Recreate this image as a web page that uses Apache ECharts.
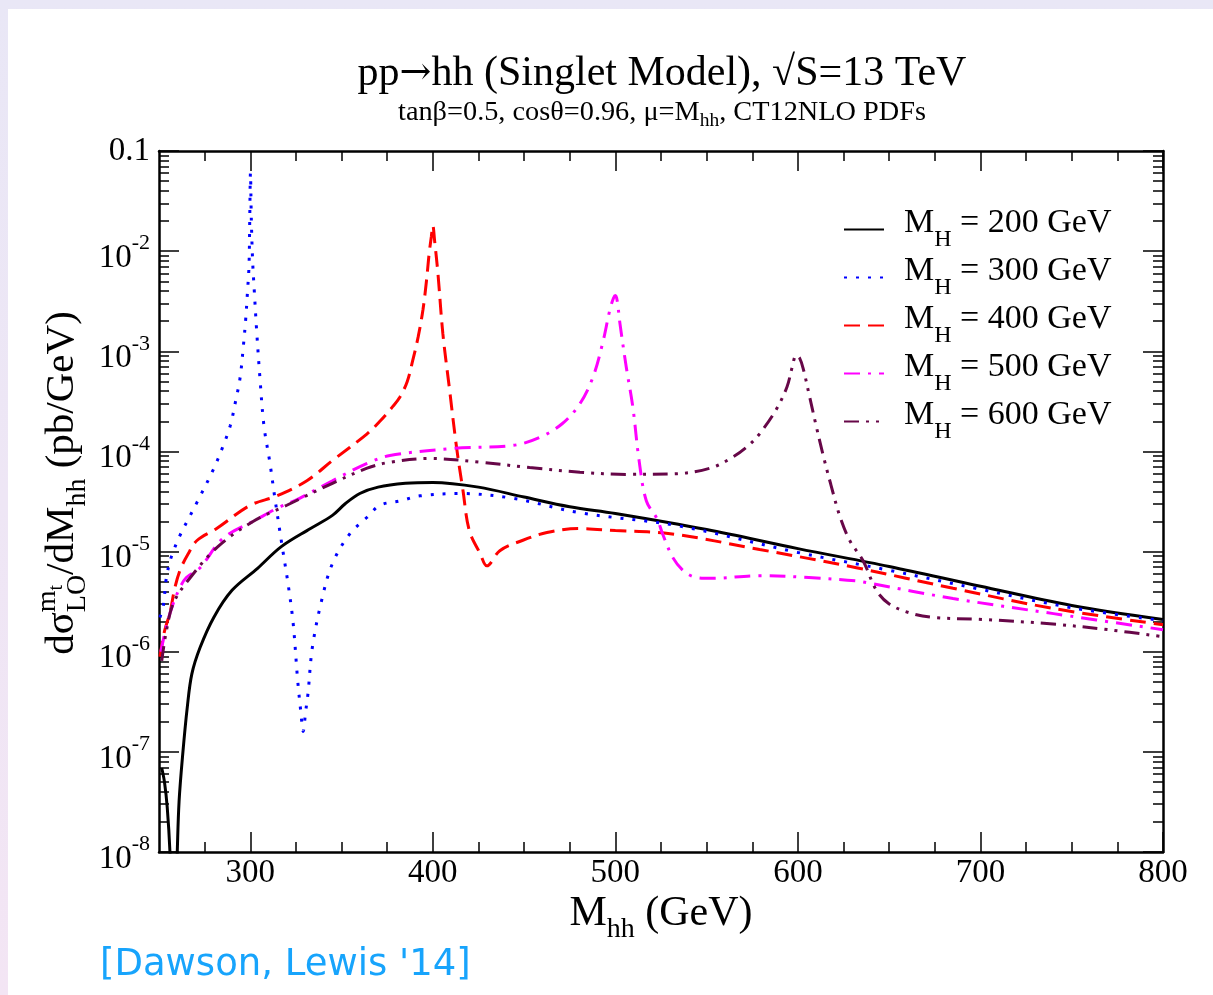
<!DOCTYPE html>
<html>
<head>
<meta charset="utf-8">
<script src="https://cdn.jsdelivr.net/npm/echarts@6/dist/echarts.min.js"></script>
<style>
  html, body { margin: 0; padding: 0; background: #fff; }
  #chart { width: 1213px; height: 995px; }
</style>
</head>
<body>
<div id="chart"></div>
<script>
// LO differential cross section dσ/dM_hh (pb/GeV) versus M_hh (GeV), one list per heavy Higgs mass
const mh200 = [[251.5,6.9e-8],[253,5.0e-8],[254.5,2.8e-8],[256,1.0e-8],[257,2.5e-9],[258,3e-10],[259,2.5e-9],[260,1.0e-8],[261,3.2e-8],[263,9.5e-8],[265.5,2.8e-7],[268,6.0e-7],[272.5,1.1e-6],[280,2.2e-6],[290,4.1e-6],[304,6.8e-6],[317,1.12e-5],[333,1.7e-5],[345,2.3e-5],[352,3.0e-5],[360,3.8e-5],[370,4.4e-5],[385,4.8e-5],[400,4.9e-5],[425,4.4e-5],[450,3.5e-5],[475,2.8e-5],[500,2.4e-5],[550,1.66e-5],[600,1.07e-5],[650,7.1e-6],[700,4.5e-6],[750,2.9e-6],[800,2.1e-6]];
const mh300 = [[250.5,2.2e-6],[252.4,2.9e-6],[254,5.4e-6],[256.6,8.7e-6],[261.5,1.45e-5],[266,2.1e-5],[270.8,3.1e-5],[279.6,6.5e-5],[285,1.12e-4],[289,1.8e-4],[292,3.2e-4],[294.4,5.4e-4],[296.2,1.12e-3],[297.5,2.1e-3],[298.5,4.0e-3],[299.3,7.1e-3],[299.7,2.0e-2],[300.1,6.0e-2],[300.6,2.0e-2],[301.3,7.9e-3],[302.2,4.0e-3],[303.5,1.6e-3],[305.3,5.4e-4],[307.5,1.8e-4],[310.8,7.6e-5],[313.5,3.4e-5],[317.4,1.15e-5],[320.6,4.9e-6],[323.4,2.0e-6],[326,5.1e-7],[327.7,2.5e-7],[329,1.6e-7],[330.3,2.5e-7],[331.6,3.8e-7],[334,1.1e-6],[339,3.2e-6],[345,7.6e-6],[354.6,1.51e-5],[364,2.2e-5],[371,2.9e-5],[382,3.2e-5],[393,3.6e-5],[415,3.8e-5],[444,3.4e-5],[480,2.45e-5],[535,1.8e-5],[600,9.8e-6],[650,6.5e-6],[700,4.2e-6],[750,2.75e-6],[800,2.04e-6]];
const mh400 = [[250.5,8.9e-7],[253,1.6e-6],[256,2.45e-6],[258.5,4.2e-6],[261.5,6.5e-6],[266,9.5e-6],[270.8,1.29e-5],[281.6,1.7e-5],[300,2.9e-5],[314.6,3.6e-5],[331,5.1e-5],[345,8.1e-5],[364,1.5e-4],[371,2.0e-4],[378,2.8e-4],[382,3.5e-4],[386,5.0e-4],[389,8.1e-4],[392,1.4e-3],[394.6,2.6e-3],[396.5,5.0e-3],[398,9.5e-3],[399.2,1.4e-2],[400,1.8e-2],[401,1.26e-2],[402.8,6.0e-3],[405.5,1.5e-3],[409,4.4e-4],[413,1.1e-4],[416.5,4.1e-5],[420,1.62e-5],[426,9.5e-6],[429.6,7.2e-6],[436.7,1.02e-5],[449,1.29e-5],[462.5,1.55e-5],[480,1.7e-5],[500,1.62e-5],[530,1.51e-5],[579,1.05e-5],[632,6.9e-6],[685,4.3e-6],[740,2.7e-6],[800,1.86e-6]];
const mh500 = [[251,1.0e-6],[254,1.78e-6],[257,2.75e-6],[261,4.2e-6],[265,5.5e-6],[272.5,6.9e-6],[285,1.35e-5],[303.7,2.1e-5],[314.6,2.7e-5],[327,3.4e-5],[345,5.1e-5],[364,7.6e-5],[376.5,9.1e-5],[411,1.07e-4],[444,1.15e-4],[458.6,1.38e-4],[471,1.9e-4],[480.6,3.0e-4],[487.7,5.5e-4],[493,1.2e-3],[497,2.6e-3],[499,3.4e-3],[500,3.6e-3],[501,3.2e-3],[502.5,1.9e-3],[506,6.9e-4],[509.6,2.75e-4],[513,8.1e-5],[517,3.2e-5],[523,2.1e-5],[526,1.48e-5],[531.5,8.7e-6],[537,6.5e-6],[543,5.6e-6],[552,5.4e-6],[579,5.75e-6],[606,5.5e-6],[632,5.1e-6],[640,4.8e-6],[685,3.4e-6],[740,2.4e-6],[800,1.66e-6]];
const mh600 = [[251.5,8.1e-7],[254,1.6e-6],[257.7,3.0e-6],[265,4.9e-6],[281.8,1.1e-5],[301.5,2.0e-5],[320,2.9e-5],[345,4.8e-5],[364,6.8e-5],[376.5,7.8e-5],[398,8.5e-5],[426,7.8e-5],[453,6.9e-5],[480.6,6.2e-5],[506,5.9e-5],[534,6.0e-5],[551.8,6.8e-5],[564,8.7e-5],[573,1.15e-4],[579,1.5e-4],[588,2.6e-4],[594,4.4e-4],[597,7.1e-4],[599,9.1e-4],[601,8.5e-4],[603,6.6e-4],[606,3.8e-4],[610,1.8e-4],[614,8.9e-5],[618,4.7e-5],[623,2.24e-5],[628.4,1.29e-5],[635.7,8.1e-6],[643,4.1e-6],[650,3.0e-6],[661,2.45e-6],[674,2.2e-6],[701,2.1e-6],[738,1.9e-6],[770,1.66e-6],[800,1.41e-6]];

const massNames = ['200', '300', '400', '500', '600'];
const xTickLabels = [300, 400, 500, 600, 700, 800];
const yTickLabels = [1e-8, 1e-7, 1e-6, 1e-5, 1e-4, 1e-3, 1e-2, 0.1];

// minor tick positions: every 25 GeV, and 2..9 within each decade
const xMinorTicks = [];
for (let v = 275; v < 800; v += 25) if (v % 100 !== 0) xMinorTicks.push(v);
const yMinorTicks = [];
for (let e = -8; e <= -2; e++) for (let k = 2; k <= 9; k++) yMinorTicks.push(k * Math.pow(10, e));

const SERIF = '"Liberation Serif", "Times New Roman", Times, serif';
const ARROW_FONT = '"DejaVu Serif", "DejaVu Sans", serif';
const X_MIN = 250, X_MAX = 800, Y_MIN = 1e-8, Y_MAX = 0.1;

// text measurement for hand-built labels with sub/superscripts
const mctx = document.createElement('canvas').getContext('2d');
function fontOf(r) { return r.size + 'px ' + (r.family || SERIF); }
function textWidth(r) {
  mctx.font = fontOf(r);
  return mctx.measureText(r.text).width;
}
function baseOffset(size, family) {
  mctx.font = size + 'px ' + (family || SERIF);
  mctx.textBaseline = 'middle';
  const d = mctx.measureText('H').actualBoundingBoxDescent;
  return (typeof d === 'number' && isFinite(d)) ? d : 0.33 * size;
}
// runs: {text,size,shift,family} (shift = baseline drop in px) or {stack:[seq, seq]}
function layoutSeq(runs, x0, out) {
  let x = x0;
  runs.forEach(r => {
    if (r.stack) {
      let w = 0;
      r.stack.forEach(seq => { w = Math.max(w, layoutSeq(seq, x, out) - x); });
      x += w;
    } else {
      out.push({ type: 'text', x: x, y: (r.shift || 0) - baseOffset(r.size, r.family),
        style: { text: r.text, font: fontOf(r), fill: '#000', align: 'left', verticalAlign: 'middle' } });
      x += textWidth(r);
    }
  });
  return x;
}
function richLabel(runs, cx, baseline, rotation) {
  const kids = [];
  const w = layoutSeq(runs, 0, kids);
  kids.forEach(k => { k.x -= w / 2; });
  return { type: 'group', x: cx, y: baseline, rotation: rotation || 0, children: kids };
}

const graphics = [
  { type: 'rect', z: -100, shape: { x: 0, y: 0, width: 1213, height: 995 },
    style: { fill: new echarts.graphic.LinearGradient(0, 0, 0, 1, [{ offset: 0, color: '#e9e7f6' }, { offset: 1, color: '#f3e5f4' }]) } },
  { type: 'rect', z: -99, shape: { x: 8, y: 9, width: 1205, height: 986 }, style: { fill: '#ffffff' } },
  richLabel([
    { text: 'pp', size: 42 },
    { text: '\u2192', size: 38, family: ARROW_FONT, shift: -1 },
    { text: 'hh (Singlet Model), \u221AS=13 TeV', size: 42 }
  ], 662, 85),
  richLabel([
    { text: 'tan\u03B2=0.5, cos\u03B8=0.96, \u03BC=M', size: 28.3 },
    { text: 'hh', size: 19.5, shift: 6 },
    { text: ', CT12NLO PDFs', size: 28.3 }
  ], 662, 120),
  richLabel([
    { text: 'M', size: 42 },
    { text: 'hh', size: 28, shift: 12 },
    { text: ' (GeV)', size: 42 }
  ], 661, 925),
  richLabel([
    { text: 'd\u03C3', size: 41 },
    { stack: [
      [{ text: 'm', size: 28, shift: -18 }, { text: 't', size: 20, shift: -11 }],
      [{ text: 'LO', size: 28, shift: 12 }]
    ] },
    { text: '/dM', size: 41 },
    { text: 'hh', size: 28, shift: 12 },
    { text: ' (pb/GeV)', size: 41 }
  ], 73, 483, Math.PI / 2),
  { type: 'text', x: 100, y: 965,
    style: { text: "[Dawson, Lewis '14]", font: '37px "DejaVu Sans", sans-serif', fill: '#17a4fc', align: 'left', verticalAlign: 'middle' } }
];

function xAxisDef(pos, major) {
  return {
    type: 'value', position: pos, min: X_MIN, max: X_MAX, offset: 0,
    axisLine: { show: major, onZero: false, lineStyle: { color: '#000', width: 2.5 } },
    axisTick: { show: true, inside: true, length: major ? 20 : 10, customValues: major ? xTickLabels : xMinorTicks,
      lineStyle: { color: '#000', width: 1.5 } },
    axisLabel: { show: major && pos === 'bottom', customValues: xTickLabels, margin: 5,
      fontSize: 33, fontFamily: SERIF, color: '#000', hideOverlap: false },
    splitLine: { show: false }
  };
}
function yAxisDef(pos, major) {
  return {
    type: 'log', logBase: 10, position: pos, min: Y_MIN, max: Y_MAX, offset: 0,
    axisLine: { show: major, onZero: false, lineStyle: { color: '#000', width: 2.5 } },
    axisTick: { show: true, inside: true, length: major ? 20 : 10, customValues: major ? yTickLabels : yMinorTicks,
      lineStyle: { color: '#000', width: 1.5 } },
    axisLabel: {
      show: major && pos === 'left', customValues: yTickLabels, margin: 9, hideOverlap: false,
      formatter: v => {
        if (Math.abs(v - 0.1) < 1e-9) return '{c|0.1}';
        return '{b|10}{s|' + Math.round(Math.log10(v)) + '}';
      },
      rich: {
        b: { fontSize: 33, fontFamily: SERIF, color: '#000', padding: [14, 0, 0, 0] },
        s: { fontSize: 22, fontFamily: SERIF, color: '#000', padding: [0, 0, 15, 0] },
        c: { fontSize: 33, fontFamily: SERIF, color: '#000' }
      }
    },
    splitLine: { show: false }
  };
}

function lineSeries(name, data, color, dash, z) {
  return {
    type: 'line', name: name, data: data, xAxisIndex: 0, yAxisIndex: 0,
    symbol: 'none', showSymbol: false, smooth: 0.35, clip: true, z: z,
    lineStyle: { color: color, width: 3, type: dash, cap: 'butt' },
    itemStyle: { color: color }, emphasis: { disabled: true }
  };
}

const chart = echarts.init(document.getElementById('chart'), null, { renderer: 'canvas' });
chart.setOption({
  animation: false,
  backgroundColor: 'transparent',
  textStyle: { fontFamily: SERIF },
  grid: { left: 159, right: 50, top: 151, bottom: 143, containLabel: false, outerBoundsMode: 'none' },
  xAxis: [xAxisDef('bottom', true), xAxisDef('bottom', false), xAxisDef('top', true), xAxisDef('top', false)],
  yAxis: [yAxisDef('left', true), yAxisDef('left', false), yAxisDef('right', true), yAxisDef('right', false)],
  legend: {
    orient: 'vertical', left: 843, top: 206.5, padding: 0,
    itemWidth: 40, itemHeight: 14, itemGap: 3, selectedMode: false,
    itemStyle: { opacity: 0 },
    data: massNames,
    formatter: name => '{a|M}{s|H}{m| = ' + name + ' GeV}',
    textStyle: {
      rich: {
        a: { fontSize: 34, fontFamily: SERIF, color: '#000', padding: [0, 0, 12, 15] },
        m: { fontSize: 34, fontFamily: SERIF, color: '#000', padding: [0, 0, 12, 0] },
        s: { fontSize: 24, fontFamily: SERIF, color: '#000', padding: [20, 0, 0, 0] }
      }
    }
  },
  graphic: graphics,
  series: [
    lineSeries(massNames[0], mh200, '#000000', 'solid', 2),
    lineSeries(massNames[1], mh300, '#0000ff', [3, 9], 3),
    lineSeries(massNames[2], mh400, '#ff0000', [16, 8], 4),
    lineSeries(massNames[3], mh500, '#ff00ff', [16, 8, 3, 8], 5),
    lineSeries(massNames[4], mh600, '#670748', [15, 7, 3, 7, 3, 7], 6)
  ]
});
</script>
</body>
</html>
